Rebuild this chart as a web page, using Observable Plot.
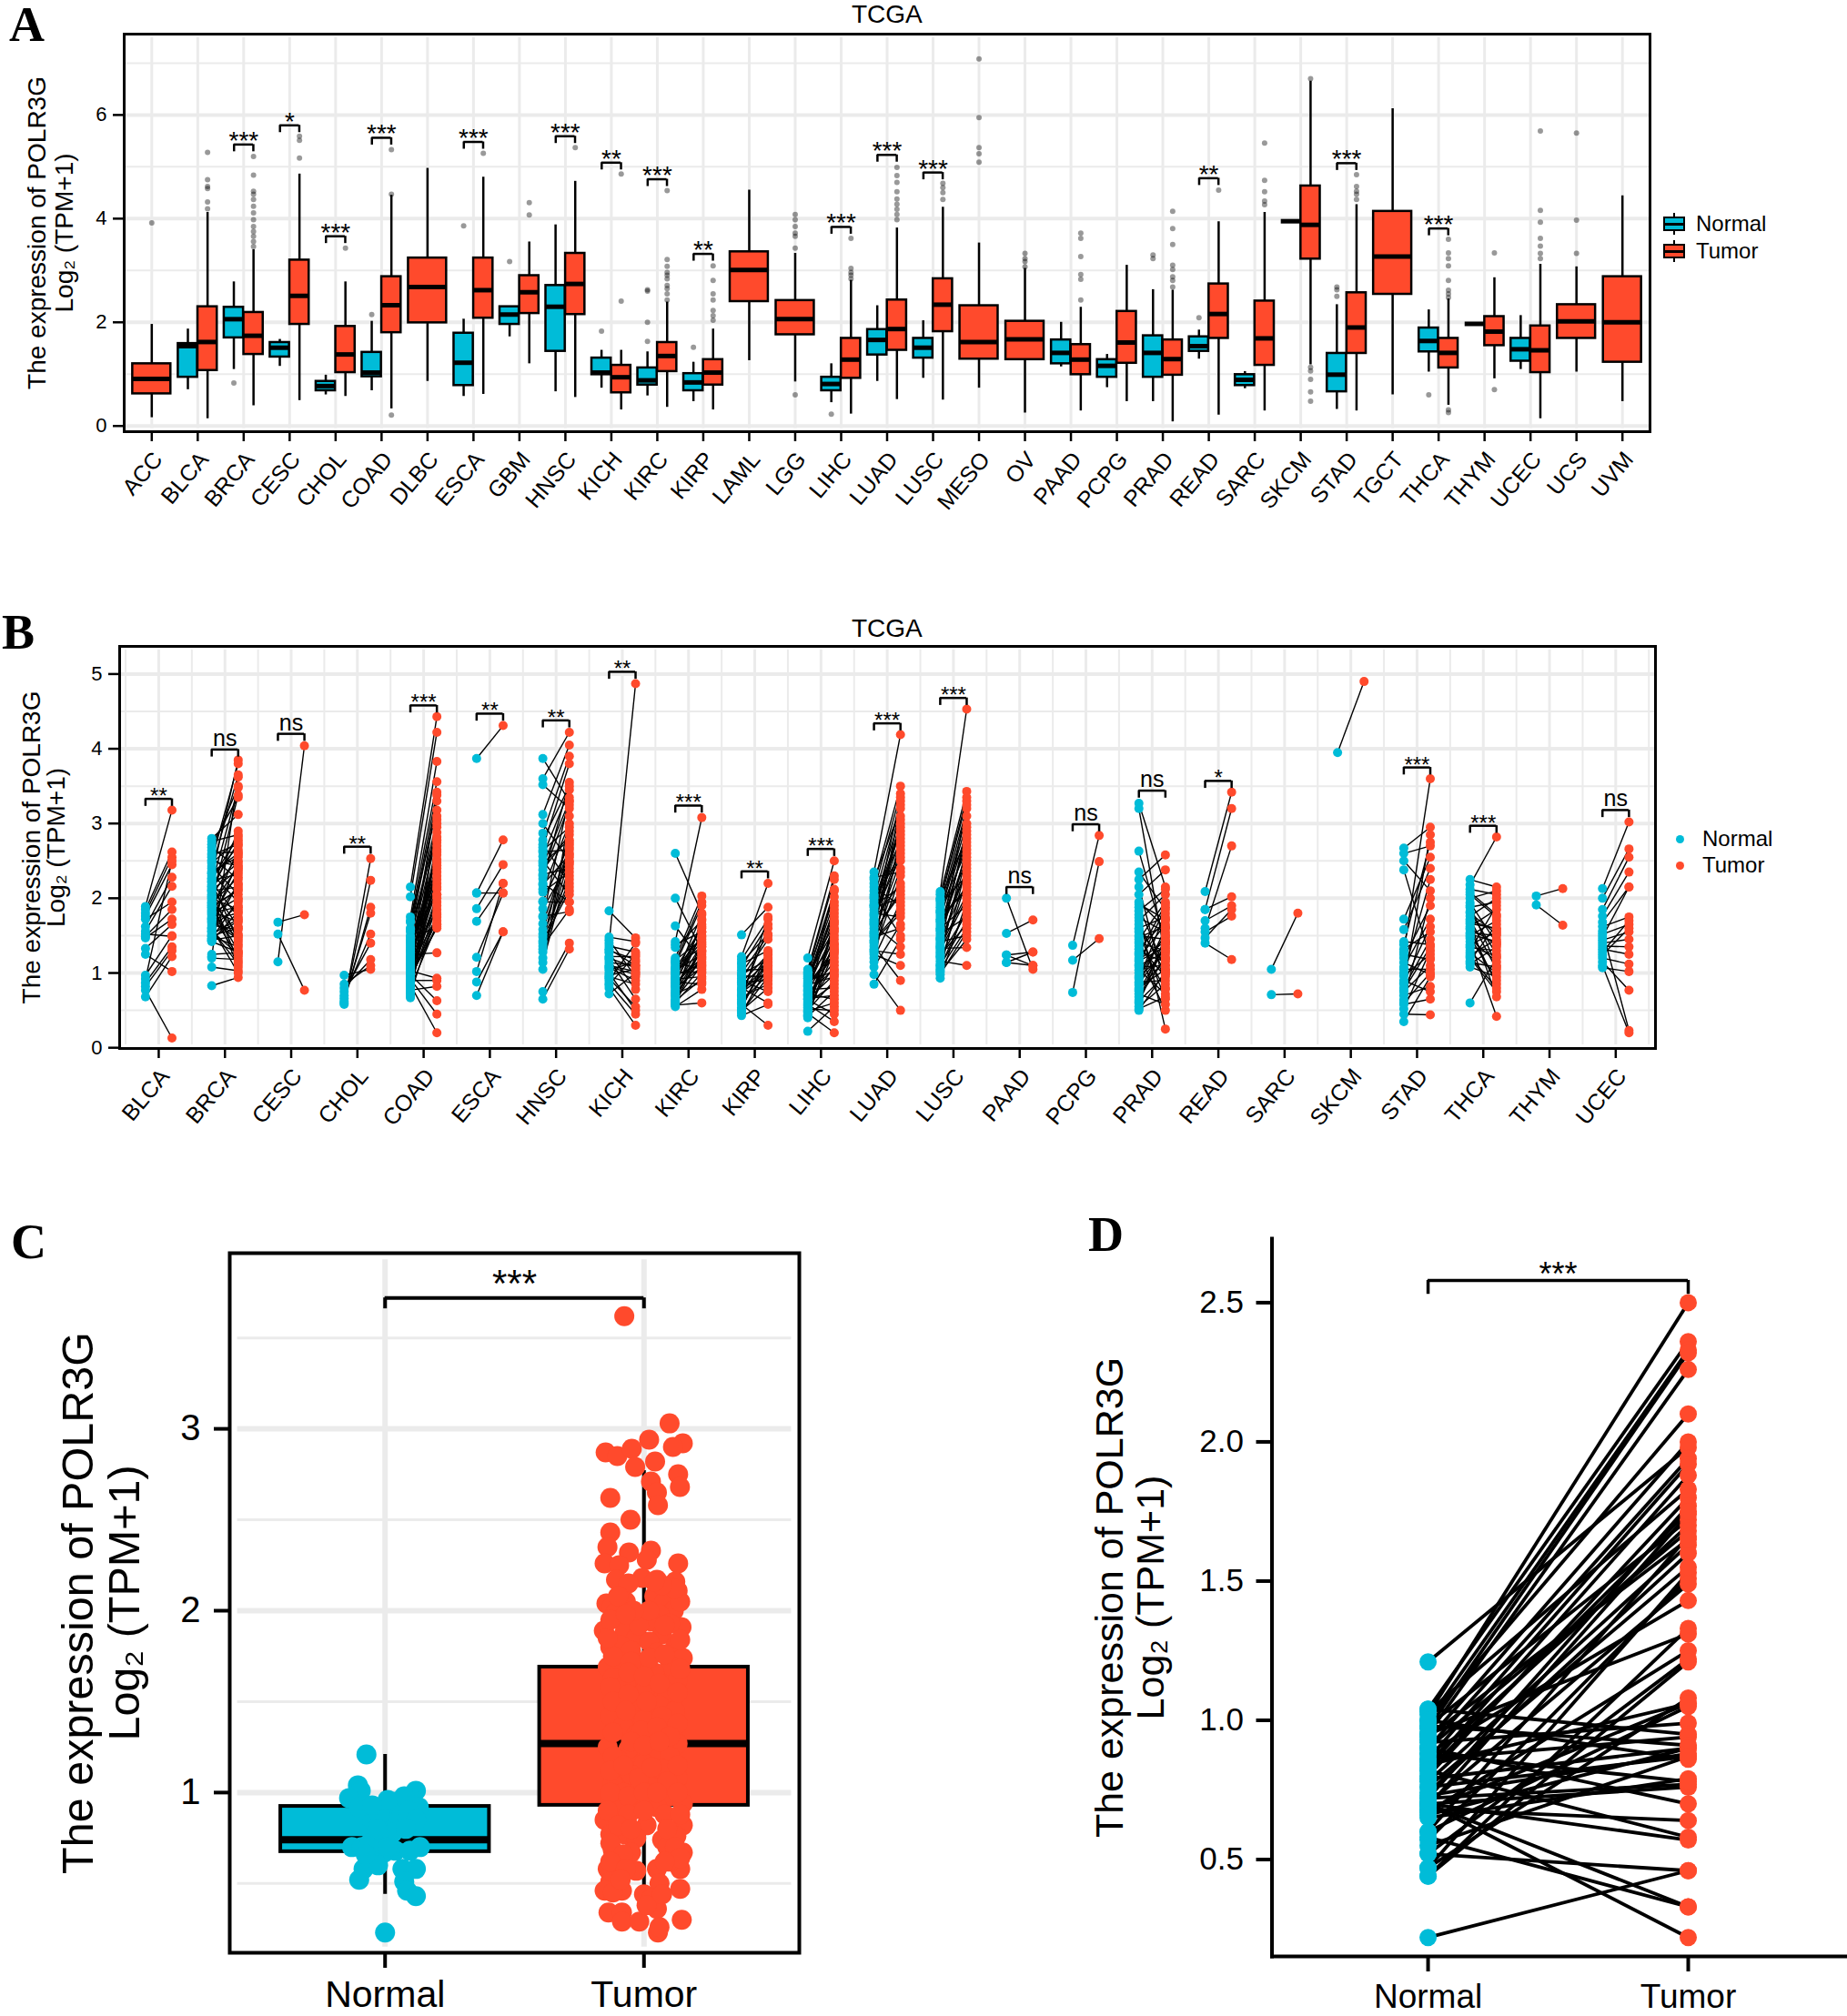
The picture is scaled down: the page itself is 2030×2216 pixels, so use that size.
<!DOCTYPE html>
<html><head><meta charset="utf-8">
<script src="https://cdn.jsdelivr.net/npm/d3@7"></script>
<script src="https://cdn.jsdelivr.net/npm/@observablehq/plot@0.6"></script>
<style>
html,body{margin:0;padding:0;background:#fff}
#page{position:relative;width:2030px;height:2216px;overflow:hidden;font-family:"Liberation Sans",Arial,sans-serif}
#page svg{position:absolute;background:transparent}
.t{position:absolute;white-space:nowrap;line-height:1;color:#000}
.letter{font-family:"Liberation Serif",serif;font-weight:bold;font-size:54px}
</style></head><body><div id="page"></div>
<script>
const yLabel1 = "The expression of POLR3G";
const yLabel2 = "Log\u2082 (TPM+1)";
const groups = ["Normal","Tumor"];
const groupColors = ["#00bcd8","#ff4a2c"];

// ---------- Panel A ----------
const catsA = ["ACC","BLCA","BRCA","CESC","CHOL","COAD","DLBC","ESCA","GBM","HNSC","KICH","KIRC","KIRP","LAML","LGG","LIHC","LUAD","LUSC","MESO","OV","PAAD","PCPG","PRAD","READ","SARC","SKCM","STAD","TGCT","THCA","THYM","UCEC","UCS","UVM"];
// cat, low whisker, q1, median, q3, high whisker
const normalBoxesA = [
["BLCA",.70,.94,1.54,1.59,1.87],["BRCA",1.09,1.70,2.06,2.29,2.78],["CESC",1.15,1.33,1.51,1.61,1.67],["CHOL",.60,.68,.77,.86,.98],
["COAD",.68,.95,1.03,1.42,2.02],["ESCA",.57,.78,1.22,1.79,2.06],["GBM",1.72,1.96,2.15,2.30,2.30],["HNSC",.66,1.44,2.30,2.71,3.88],
["KICH",.73,.99,1.03,1.31,1.46],["KIRC",.58,.79,.88,1.12,1.43],["KIRP",.47,.68,.84,1.01,1.23],["LIHC",.45,.68,.81,.94,1.20],
["LUAD",.86,1.37,1.66,1.86,2.32],["LUSC",.92,1.31,1.51,1.69,2.03],["PAAD",1.14,1.20,1.41,1.66,2.00],["PCPG",.74,.94,1.16,1.28,1.38],
["PRAD",.47,.94,1.41,1.74,2.63],["READ",1.29,1.44,1.54,1.72,1.85],["SARC",.72,.78,.89,.99,1.05],["SKCM",3.95,3.95,3.95,3.95,3.95],
["STAD",.32,.66,.99,1.40,2.34],["THCA",1.04,1.43,1.64,1.89,2.24],["THYM",1.97,1.97,1.97,1.97,1.97],["UCEC",1.09,1.25,1.48,1.69,2.13]];
const tumorBoxesA = [
["ACC",.16,.62,.91,1.20,1.96],["BLCA",.14,1.07,1.62,2.30,4.12],["BRCA",.39,1.38,1.74,2.19,3.40],["CESC",.49,1.96,2.51,3.20,4.86],
["CHOL",.57,1.03,1.38,1.92,2.78],["COAD",.33,1.80,2.33,2.88,4.45],["DLBC",.86,1.99,2.68,3.24,4.97],["ESCA",.61,2.08,2.62,3.24,4.80],
["GBM",1.20,2.17,2.58,2.90,3.55],["HNSC",.55,2.15,2.74,3.33,4.72],["KICH",.31,.64,.94,1.17,1.46],["KIRC",.36,1.05,1.35,1.61,2.39],
["KIRP",.31,.79,1.03,1.28,1.87],["LAML",1.26,2.40,3.01,3.36,4.55],["LGG",.85,1.76,2.06,2.42,3.33],["LIHC",.23,.92,1.28,1.69,2.81],
["LUAD",.51,1.46,1.87,2.43,3.82],["LUSC",.50,1.82,2.34,2.84,4.22],["MESO",.73,1.29,1.62,2.32,3.53],["OV",.25,1.28,1.67,2.02,3.04],
["PAAD",.29,.99,1.28,1.57,2.29],["PCPG",.47,1.21,1.61,2.21,3.10],["PRAD",.08,.98,1.29,1.66,2.62],["READ",.21,1.69,2.16,2.74,3.94],
["SARC",.29,1.17,1.69,2.41,4.12],["SKCM",1.18,3.22,3.88,4.63,6.65],["STAD",.29,1.40,1.90,2.57,4.27],["TGCT",.60,2.54,3.27,4.14,6.12],
["THCA",.40,1.12,1.41,1.69,2.45],["THYM",.91,1.55,1.82,2.11,2.86],["UCEC",.14,1.03,1.46,1.93,3.12],["UCS",1.04,1.69,2.02,2.34,3.07],["UVM",.47,1.23,2.00,2.88,4.44]];
const normalOutliersA = [
["BRCA",[.83]],["COAD",[2.15]],["ESCA",[3.86]],["GBM",[3.17]],["KICH",[1.83]],["KIRC",[1.63,2.0,2.60,2.63]],["KIRP",[1.52]],["LIHC",[.23]],
["PRAD",[3.23,3.30]],["READ",[2.09]],["STAD",[2.50,2.63,2.68]],["THCA",[.60]]];
const tumorOutliersA = [
["ACC",[3.92]],["BLCA",[4.19,4.32,4.58,4.62,4.75,5.28]],["BRCA",[3.46,3.56,3.66,3.75,3.85,3.98,4.11,4.24,4.37,4.47,4.53,4.84,5.20]],
["CESC",[5.17,5.51,5.59]],["CHOL",[3.43]],["COAD",[.21,4.47,5.33]],["ESCA",[5.26]],["GBM",[4.07,4.31]],["HNSC",[5.37]],["KICH",[2.41,4.86]],
["KIRC",[2.43,2.55,2.65,2.71,2.84,2.91,2.96,3.08,3.21,4.54]],["KIRP",[2.04,2.13,2.23,2.43,2.55,2.81,3.09]],["LGG",[.60,3.43,3.66,3.72,3.85,3.98,4.08]],
["LIHC",[2.84,2.91,2.96,3.04,3.62]],["LUAD",[3.98,4.08,4.18,4.28,4.38,4.52,4.70,4.83,4.99]],["LUSC",[4.37,4.50,4.60,4.68]],
["MESO",[5.09,5.25,5.37,5.95,7.08]],["OV",[3.07,3.17,3.23,3.33]],["PAAD",[2.43,2.83,2.92,3.27,3.62,3.72]],
["PRAD",[2.68,2.81,2.88,3.02,3.10,3.50,3.81,4.14]],["READ",[4.55]],["SARC",[4.27,4.34,4.52,4.74,5.46]],
["SKCM",[.48,.66,.90,1.13,1.06,6.70]],["STAD",[4.37,4.47,4.53,4.62,4.85]],["THCA",[.26,.31,2.48,2.55,2.62,2.81,3.09,3.23,3.34,3.60]],
["THYM",[.70,3.34]],["UCEC",[3.23,3.33,3.47,3.62,3.93,4.16,5.69]],["UCS",[3.33,3.97,5.65]]];
const bracketsA = [["BRCA",5.43,"***"],["CESC",5.80,"*"],["CHOL",3.66,"***"],["COAD",5.56,"***"],["ESCA",5.48,"***"],["HNSC",5.59,"***"],["KICH",5.08,"**"],["KIRC",4.76,"***"],["KIRP",3.32,"**"],["LIHC",3.84,"***"],["LUAD",5.23,"***"],["LUSC",4.89,"***"],["READ",4.78,"**"],["STAD",5.07,"***"],["THCA",3.81,"***"]];

// ---------- Panel B : [normal, tumor] pairs ----------
const catsB = ["BLCA","BRCA","CESC","CHOL","COAD","ESCA","HNSC","KICH","KIRC","KIRP","LIHC","LUAD","LUSC","PAAD","PCPG","PRAD","READ","SARC","SKCM","STAD","THCA","THYM","UCEC"];
const pairsBLCA=[[1.89,3.18],[1.85,2.62],[1.8,2.55],[1.76,2.45],[1.72,1.95],[1.62,2.28],[1.56,2.16],[1.52,1.49],[1.49,1.85],[1.47,1.72],[1.33,1.65],[1.25,1.02],[.97,1.5],[.92,2.5],[.87,1.35],[.82,1.3],[.77,.13],[.68,1.22]];
const pairsBRCA=[[2.8,3.12],[2.76,2.85],[2.72,3.35],[2.68,2.4],[2.64,3.5],[2.6,2.62],[2.55,2.25],[2.51,3.8],[2.47,2.78],[2.43,2.05],[2.4,3.65],[2.36,2.55],[2.33,1.95],[2.3,3.85],[2.27,2.7],[2.24,2.32],[2.21,1.75],[2.18,3.48],[2.16,2.48],[2.13,1.62],[2.1,2.15],[2.08,2.9],[2.05,1.38],[2.03,2.58],[2,1.85],[1.98,3.38],[1.96,1.52],[1.93,2.28],[1.9,2.1],[1.88,1.3],[1.85,2.65],[1.83,1.68],[1.8,2.0],[1.78,1.22],[1.75,2.35],[1.72,1.8],[1.7,1.45],[1.67,2.5],[1.64,1.58],[1.61,1.9],[1.58,1.12],[1.55,2.2],[1.52,1.72],[1.49,1.35],[1.46,1.98],[1.42,1.28],[1.25,1.27],[1.22,3.62],[1.2,1.18],[1.08,1.03],[.83,.94],[2.58,2.72],[2.49,2.44],[2.34,2.6],[2.22,1.42],[2.11,2.38],[1.94,1.08],[1.81,1.88],[1.69,2.18],[1.56,1.25],[1.44,1.5],[2.26,2.82],[2.02,1.15],[1.87,2.12],[1.73,1.48],[1.6,1.0],[1.5,1.6],[1.46,1.7],[1.43,1.82],[2.15,2.75],[1.91,2.42]];
const pairsCESC=[[1.68,1.78],[1.52,.77],[1.15,4.04]];
const pairsCHOL=[[.97,1.05],[.85,1.1],[.8,1.18],[.75,1.4],[.7,1.52],[.66,1.8],[.62,1.88],[.6,2.24],[.58,2.53]];
const pairsCOAD=[[2.15,4.43],[2.02,4.22],[1.75,3.83],[1.68,3.56],[1.6,3.42],[1.55,3.3],[1.5,2.05],[1.47,3.05],[1.44,2.95],[1.4,1.65],[1.37,2.82],[1.34,2.3],[1.31,2.65],[1.28,2.58],[1.25,1.27],[1.22,2.4],[1.19,2.2],[1.16,1.85],[1.13,2.15],[1.1,3.38],[1.08,1.75],[1.05,2.12],[1.03,.93],[1,1.95],[.98,.63],[.96,1.6],[.94,1.7],[.92,.45],[.9,.9],[.88,2.05],[.86,1.9],[.84,.2],[.82,2.75],[.8,1.65],[.77,.82],[.74,2.35],[.72,1.8],[.69,3.1],[.67,2.7],[1.7,3.18],[1.58,2.88],[1.42,2.52],[1.3,2.44],[1.2,2.25],[1.06,2.0],[.95,1.62],[.83,2.78],[.75,2.48],[1.12,2.62],[1.0,3.0],[.9,1.78]];
const pairsESCA=[[3.87,4.31],[2.07,2.07],[2.07,2.78],[1.86,2.45],[1.69,2.2],[1.21,2.07],[1.02,2.2],[.88,1.55],[.7,1.55]];
const pairsHNSC=[[3.87,3.3],[3.6,4.22],[3.52,3.2],[3.12,4.05],[3.0,2.5],[2.87,3.9],[2.72,2.2],[2.68,3.8],[2.62,2.65],[2.56,3.45],[2.5,2.05],[2.44,3.3],[2.38,2.85],[2.32,2.4],[2.26,3.55],[2.2,1.95],[2.12,3.0],[1.96,2.72],[1.95,1.95],[1.76,1.82],[1.75,3.35],[1.58,2.6],[1.52,2.3],[1.48,2.15],[1.4,2.9],[1.36,1.85],[1.28,2.55],[1.2,2.75],[1.14,2.45],[1.05,3.1],[.75,1.4],[.65,1.32],[2.78,3.5],[2.64,2.95],[2.47,2.78],[2.3,3.25],[2.18,2.58],[2.08,2.35],[1.86,2.48],[1.66,2.68],[1.43,2.1],[1.32,2.25]];
const pairsKICH=[[1.83,1.47],[1.48,1.42],[1.44,.95],[1.4,4.87],[1.36,1.28],[1.32,1.1],[1.27,.78],[1.22,1.22],[1.18,.65],[1.14,1.1],[1.1,1.02],[1.07,.9],[1.04,1.15],[1,.5],[.97,1.05],[.93,.55],[.9,1.4],[.86,.45],[.8,.3],[.72,1.0],[1.3,1.18],[1.2,1.07],[1.08,.98],[.95,.85],[.84,1.25]];
const pairsKIRC=[[2.6,1.8],[2.0,1.3],[1.63,1.15],[1.42,3.08],[1.38,1.55],[1.34,1.7],[1.2,2.03],[1.17,1.45],[1.14,1.05],[1.11,1.9],[1.08,1.35],[1.06,1.6],[1.03,1.25],[1,1.42],[.97,1.12],[.95,1.78],[.92,.95],[.9,1.5],[.87,1.2],[.85,1.65],[.82,1.38],[.8,1.08],[.77,1.55],[.75,1.3],[.72,.88],[.7,1.22],[.68,1.72],[.65,1.1],[.62,1.4],[.6,1.0],[.57,.6],[.55,.78],[1.15,1.95],[1.05,1.48],[.93,1.62],[.83,1.28],[.73,1.18],[.63,.92],[.58,1.35],[1.0,1.02],[.88,.85]];
const pairsKIRP=[[1.51,1.88],[1.22,2.2],[1.18,1.72],[1.12,1.3],[1.08,1.65],[1.04,1.05],[1,1.5],[.96,.95],[.93,1.45],[.9,.75],[.87,1.25],[.84,1.15],[.8,.6],[.77,1.1],[.74,1.0],[.71,1.25],[.68,.85],[.65,1.75],[.62,.98],[.58,.3],[.54,1.2],[.5,.8],[.46,1.08],[.43,.58],[1.14,1.52],[.98,1.18],[.88,.9],[.78,1.02],[.7,1.6],[.6,1.12],[.52,1.28],[.48,.95]];
const pairsLIHC=[[1.2,2.5],[1.05,2.3],[1.02,2.25],[1,1.65],[.98,2.1],[.95,1.4],[.93,1.95],[.9,1.02],[.88,1.8],[.86,1.25],[.84,.95],[.82,1.55],[.8,1.75],[.78,.8],[.76,1.35],[.74,1.05],[.72,.65],[.7,1.9],[.68,1.28],[.66,.7],[.64,.45],[.62,1.5],[.6,.85],[.58,.35],[.56,1.1],[.54,1.6],[.52,.5],[.5,.9],[.48,1.7],[.46,.2],[.44,1.3],[.42,.75],[.4,1.45],[.22,.55],[1.0,2.02],[.92,1.85],[.85,1.2],[.77,2.12],[.71,1.15],[.65,.98],[.57,1.38],[.49,.6],[.43,1.68],[.96,1.58],[.83,1.32]];
const pairsLUAD=[[2.35,4.19],[2.28,2.35],[2.2,3.5],[2.15,1.9],[2.1,3.4],[2.05,1.5],[2,3.25],[1.96,2.6],[1.92,3.1],[1.88,2.0],[1.84,2.9],[1.8,1.75],[1.76,2.8],[1.72,2.2],[1.68,2.7],[1.64,1.35],[1.6,3.0],[1.56,2.05],[1.52,2.5],[1.48,1.6],[1.44,1.85],[1.4,2.4],[1.36,.9],[1.32,3.3],[1.28,2.3],[1.25,1.1],[1.2,1.95],[1.15,2.85],[1.08,1.65],[.98,.5],[.85,1.45],[2.25,3.2],[2.02,2.75],[1.9,2.15],[1.78,2.55],[1.66,3.05],[1.54,2.1],[1.42,1.8],[1.3,1.25],[1.9,2.95],[1.7,3.35],[1.5,2.65]];
const pairsLUSC=[[2.09,4.53],[2.05,3.43],[2,2.8],[1.96,3.3],[1.92,2.3],[1.88,3.2],[1.84,2.65],[1.8,3.0],[1.76,2.1],[1.72,2.9],[1.68,2.5],[1.64,2.75],[1.6,1.9],[1.56,2.6],[1.52,1.75],[1.48,2.85],[1.45,2.2],[1.42,1.5],[1.39,2.4],[1.36,2.95],[1.33,1.34],[1.3,2.0],[1.27,2.55],[1.24,1.65],[1.2,2.7],[1.16,1.1],[1.12,2.25],[1.08,1.85],[1.03,2.45],[.98,1.55],[.93,1.95],[1.98,3.35],[1.82,3.1],[1.7,2.15],[1.58,2.35],[1.46,3.25],[1.35,2.05],[1.22,1.8],[1.1,1.7],[1.05,1.6],[1.01,1.45]];
const pairsPAAD=[[2,1.05],[1.53,1.71],[1.24,1.28],[1.24,1.1],[1.14,1.28],[1.14,1.1]];
const pairsPCPG=[[1.37,2.84],[1.17,1.46],[.74,2.49]];
const pairsPRAD=[[3.27,2.15],[3.2,1.2],[2.63,1.4],[2.35,1.85],[2.25,2.58],[2.15,.8],[2.05,2.38],[1.95,1.6],[1.88,1.05],[1.83,2.12],[1.78,.25],[1.74,1.55],[1.7,2.05],[1.65,1.0],[1.6,1.75],[1.55,.65],[1.5,1.45],[1.45,1.95],[1.4,1.3],[1.36,.95],[1.32,1.7],[1.28,1.15],[1.24,.5],[1.2,1.65],[1.16,1.35],[1.12,1.88],[1.08,1.1],[1.04,.72],[1,1.5],[.96,1.25],[.92,1.8],[.88,.9],[.84,1.6],[.8,1.05],[.76,1.38],[.72,.58],[.68,1.2],[.64,1.48],[.6,1.42],[.55,.85],[.5,1.02],[1.92,1.72],[1.58,1.1],[1.42,.78],[1.26,1.92],[1.1,1.28],[.94,1.52],[.78,1.18],[.62,.98],[.52,.68],[1.48,1.62],[1.18,1.42],[.86,1.33]];
const pairsREAD=[[2.09,3.42],[1.85,3.2],[1.85,2.02],[1.7,1.9],[1.6,2.7],[1.55,1.76],[1.47,1.85],[1.4,1.18]];
const pairsSARC=[[1.05,1.8],[.71,.72]];
const pairsSKCM=[[3.95,4.9]];
const pairsSTAD=[[2.67,2.95],[2.6,2.7],[2.5,2.1],[2.38,1.2],[1.72,2.55],[1.58,2.4],[1.42,1.38],[1.38,2.75],[1.32,1.55],[1.28,3.6],[1.2,1.9],[1.14,.98],[1.08,1.72],[1,2.25],[.96,1.25],[.9,.75],[.85,2.85],[.8,1.45],[.75,1.1],[.7,.82],[.64,2.0],[.58,.65],[.52,1.3],[.45,.44],[.35,.95],[1.25,1.18],[1.05,1.05],[.87,1.62],[.77,1.35],[.6,1.0]];
const pairsTHCA=[[2.25,2.15],[2.18,2.82],[2.12,2.05],[2.05,1.75],[2,2.1],[1.94,1.4],[1.88,1.95],[1.82,1.25],[1.76,2.0],[1.72,1.05],[1.66,1.6],[1.62,1.85],[1.58,.85],[1.54,1.5],[1.5,1.7],[1.46,1.15],[1.42,.42],[1.38,1.55],[1.34,1.3],[1.3,1.9],[1.27,1.0],[1.24,1.45],[1.2,.75],[1.16,1.65],[1.12,1.35],[1.08,.95],[.6,1.2],[2.08,1.78],[1.9,1.1],[1.8,1.52],[1.68,.68],[1.6,1.38],[1.48,.9],[1.36,1.22],[1.22,.8],[1.14,1.08],[1.7,1.58],[1.52,1.42]];
const pairsTHYM=[[2.03,2.13],[1.91,1.64]];
const pairsUCEC=[[2.13,3.02],[2.0,2.66],[1.85,2.55],[1.76,2.35],[1.68,2.15],[1.62,1.75],[1.56,.23],[1.52,1.65],[1.48,2.15],[1.44,1.55],[1.4,1.45],[1.36,1.35],[1.32,1.25],[1.28,1.7],[1.24,1.6],[1.2,1.12],[1.15,.77],[1.07,1.02],[1.1,.2]];
const pairsB = {BLCA:pairsBLCA,BRCA:pairsBRCA,CESC:pairsCESC,CHOL:pairsCHOL,COAD:pairsCOAD,ESCA:pairsESCA,HNSC:pairsHNSC,KICH:pairsKICH,KIRC:pairsKIRC,KIRP:pairsKIRP,LIHC:pairsLIHC,LUAD:pairsLUAD,LUSC:pairsLUSC,PAAD:pairsPAAD,PCPG:pairsPCPG,PRAD:pairsPRAD,READ:pairsREAD,SARC:pairsSARC,SKCM:pairsSKCM,STAD:pairsSTAD,THCA:pairsTHCA,THYM:pairsTHYM,UCEC:pairsUCEC};
const bracketsB = [["BLCA",3.33,"**"],["BRCA",3.99,"ns"],["CESC",4.2,"ns"],["CHOL",2.69,"**"],["COAD",4.58,"***"],["ESCA",4.47,"**"],["HNSC",4.38,"**"],["KICH",5.03,"**"],["KIRC",3.24,"***"],["KIRP",2.36,"**"],["LIHC",2.66,"***"],["LUAD",4.34,"***"],["LUSC",4.68,"***"],["PAAD",2.15,"ns"],["PCPG",2.99,"ns"],["PRAD",3.44,"ns"],["READ",3.57,"*"],["STAD",3.75,"***"],["THCA",2.97,"***"],["UCEC",3.18,"ns"]];

// ---------- Panel C : box [low, q1, median, q3, high], points [jitter, value] ----------
const boxNormalC = [.44,.675,.74,.924,1.21];
const boxTumorC = [.33,.93,1.27,1.69,2.77];
const pointsNormalC = [[-.072,1.21],[-.105,1.04],[-.094,1.01],[-.139,.97],[.119,1.01],[.103,.97],[.13,.92],[.04,.95],[-.016,.92],[.074,.98],[-.05,.85],[.063,.87],[.018,.81],[-.016,.75],[-.128,.70],[-.09,.70],[-.038,.68],[.04,.68],[.135,.70],[.096,.68],[-.004,.67],[-.083,.58],[-.027,.60],[.067,.58],[.119,.58],[-.10,.52],[.074,.51],[.085,.46],[.119,.43],[0,.23],[-.02,.88],[.03,.78],[.09,.9],[-.06,.72],[.01,.96],[-.1,.92],[.12,.85],[-.03,.8],[.08,.8],[-.075,.66],[-.05,.93],[.01,.7]];
const pointsTumorC = [[-.076,3.62],[.099,3.03],[.02,2.94],[.15,2.92],[.112,2.90],[-.148,2.87],[-.103,2.85],[-.047,2.89],[-.034,2.79],[.043,2.82],[.132,2.75],[.139,2.68],[.027,2.71],[.05,2.65],[.054,2.58],[-.13,2.62],[-.052,2.50],[-.13,2.43],[-.141,2.35],[-.058,2.32],[.027,2.33],[.011,2.28],[-.152,2.26],[-.096,2.25],[.132,2.26],[-.108,2.17],[-.007,2.18],[.05,2.17],[.121,2.16],[-.06,2.15],[.13,2.11],[.10,2.13],[-.145,2.04],[-.125,2.02],[-.07,2.05],[-.11,1.99],[.04,2.08],[.08,2.05],[.115,2.0],[.06,1.98],[-.09,1.95],[.03,1.94],[.145,1.91],[.10,1.93],[-.155,1.89],[-.075,1.88],[.07,1.87],[-.03,1.85],[.02,1.83],[-.13,1.8],[-.09,1.81],[.12,1.8],[.05,1.77],[-.05,1.78],[.15,1.74],[-.14,1.69],[-.09,1.72],[-.02,1.71],[.1,1.7],[.04,1.66],[-.12,1.63],[.13,1.62],[-.07,1.6],[.01,1.58],[.09,1.55],[-.1,1.52],[-.04,1.5],[.06,1.48],[.12,1.45],[-.13,1.42],[0,1.4],[-.08,1.37],[.08,1.35],[-.03,1.32],[.03,1.3],[.13,1.27],[-.14,1.25],[-.06,1.24],[.05,1.22],[.1,1.2],[-.1,1.18],[0,1.16],[.07,1.13],[-.05,1.1],[.13,1.08],[-.12,1.05],[.03,1.03],[-.08,1.0],[.1,.98],[.15,.94],[-.13,.97],[-.02,.95],[.05,.92],[-.1,.9],[-.152,.85],[.15,.82],[-.13,.77],[-.074,.77],[.125,.76],[.01,.82],[-.03,.75],[.07,.74],[-.12,.68],[-.05,.67],[.15,.67],[.09,.7],[-.14,.58],[-.03,.57],[.05,.58],[.14,.58],[.1,.62],[-.13,.51],[-.152,.46],[-.085,.46],[0,.44],[.06,.5],[.14,.47],[.03,.42],[-.137,.34],[-.085,.34],[-.085,.29],[-.018,.29],[.05,.36],[.054,.23],[.06,.26],[.146,.30],
[-.12,1.75],[-.05,1.72],[.02,1.74],[.08,1.76],[.14,1.68],[-.13,1.58],[-.06,1.66],[.0,1.64],[.06,1.6],[.13,1.55],[-.12,1.5],[-.06,1.54],[.01,1.5],[.07,1.42],[.13,1.38],[-.12,1.33],[-.07,1.45],[-.01,1.34],[.05,1.36],[.1,1.31],[-.12,1.2],[-.05,1.28],[.0,1.26],[.06,1.28],[.13,1.15],[-.13,1.12],[-.08,1.15],[-.02,1.08],[.03,1.14],[.09,1.06],[-.13,1.0],[-.06,.98],[.0,1.0],[.05,1.0],[.13,1.0],[-.14,.9],[-.06,.88],[.0,.9],[.08,.88],[.14,.88],[-.1,.82],[-.05,.8],[.09,.8],[-.13,.72],[-.08,.66],[.12,.7],[.14,.64],[-.13,.62],[-.07,.58],[.08,.62],[-.12,.45],[-.09,.52],[.01,.38],[.07,.44],[-.14,1.85],[.14,1.84],[-.02,1.92],[.02,2.0],[-.13,1.95],[.08,1.92],[.14,2.05],[-.04,2.0],[.12,2.12],[-.1,2.08],[.07,2.14],[.04,2.16],[-.07,1.98]];
const bracketC = 3.72;

// ---------- Panel D : [normal, tumor] pairs ----------
const pairsD = [[1.02,2.5],[1.04,2.36],[1.0,2.33],[.97,2.32],[.95,2.26],[1.0,2.10],[1.21,1.98],[.93,2.0],[.9,1.94],[.86,1.92],[.83,1.88],[1.03,1.83],[.8,1.8],[.72,1.77],[.69,1.74],[.98,1.72],[.85,1.7],[.9,1.68],[.6,1.66],[.78,1.63],[.74,1.6],[.47,1.53],[.57,1.51],[.7,1.49],[.88,1.43],[.44,1.33],[.95,1.31],[.67,1.25],[.52,1.22],[.44,1.21],[.47,1.08],[.68,1.06],[.6,1.05],[.92,.99],[1.04,.95],[.86,.94],[.98,.91],[.79,.9],[.73,.88],[.55,.87],[1.0,.86],[.65,.79],[.72,.77],[.7,.76],[.9,.7],[.68,.64],[.82,.58],[.7,.57],[.52,.46],[.22,.46],[.58,.33],[.7,.33],[.7,.22],[.76,1.55],[.84,1.06],[.66,.9],[.88,.78],[.76,.87],[.94,1.65],[.82,1.75]];
const bracketD = 2.58;

// ---------- helpers ----------
const page = document.getElementById("page");
function place(svg,left,top){svg.style.left=left+"px";svg.style.top=top+"px";page.appendChild(svg);}
function txt(s,left,top,size,cls){const d=document.createElement("div");d.className="t"+(cls?" "+cls:"");d.textContent=s;d.style.left=left+"px";d.style.top=top+"px";if(size)d.style.fontSize=size+"px";page.appendChild(d);return d;}
const colorScale = {domain:groups,range:groupColors};
const fontStyle = {fontFamily:"Liberation Sans, Arial, sans-serif",background:"transparent"};
const yTitle = (s,fontSize,dx)=>Plot.text([s],{text:d=>d,frameAnchor:"left",textAnchor:"middle",rotate:-90,dx,fontSize,fill:"#000"});
const gridCol="#ebebeb";
const bracketMarks=(rows,half,leg,fs,fsNs)=>[
  Plot.ruleY(rows,{y:"y",x1:d=>d.x-half,x2:d=>d.x+half,strokeWidth:2.5}),
  Plot.ruleX(rows,{x:d=>d.x-half,y1:"y",y2:d=>d.y-leg,strokeWidth:2.5}),
  Plot.ruleX(rows,{x:d=>d.x+half,y1:"y",y2:d=>d.y-leg,strokeWidth:2.5}),
  Plot.text(rows.filter(d=>d.l!=="ns"),{x:"x",y:"y",text:"l",fontSize:fs,lineAnchor:"bottom",dy:5,fill:"#000"}),
  Plot.text(rows.filter(d=>d.l==="ns"),{x:"x",y:"y",text:"l",fontSize:fsNs,lineAnchor:"bottom",dy:-4,fill:"#000"})
];
const xAxisRotated=(ticks,cats)=>[
  Plot.axisX({ticks,tickSize:11,text:null,strokeWidth:2.5,label:null}),
  Plot.axisX({ticks,tickFormat:i=>cats[i-1],tickRotate:-50,tickSize:0,tickPadding:26,dx:7,fontSize:25,label:null})
];

// ---------- A ----------
(function(){
  const pos=c=>catsA.indexOf(c)+1;
  const hasNormal=new Set(normalBoxesA.map(r=>r[0]));
  const off=.214, w1=.21, w2=.415;
  const rows=[];
  for(const r of normalBoxesA) rows.push({g:"Normal",xc:pos(r[0])-off,hw:w1,lo:r[1],q1:r[2],med:r[3],q3:r[4],hi:r[5]});
  for(const r of tumorBoxesA){const solo=!hasNormal.has(r[0]);rows.push({g:"Tumor",xc:solo?pos(r[0]):pos(r[0])+off,hw:solo?w2:w1,lo:r[1],q1:r[2],med:r[3],q3:r[4],hi:r[5]});}
  const out=[];
  for(const [c,vs] of normalOutliersA) for(const v of vs) out.push({x:pos(c)-off,v});
  for(const [c,vs] of tumorOutliersA) for(const v of vs) out.push({x:hasNormal.has(c)?pos(c)+off:pos(c),v});
  const br=bracketsA.map(([c,y,l])=>({x:pos(c),y,l}));
  const ticks=catsA.map((c,i)=>i+1);
  place(Plot.plot({width:2030,height:600,marginLeft:136,marginRight:217,marginTop:37,marginBottom:126,style:fontStyle,
    x:{domain:[.4,33.6],label:null},y:{domain:[-.11,7.56],label:null},color:colorScale,
    marks:[
      Plot.ruleY([1,3,5,7],{stroke:gridCol,strokeWidth:2}),
      Plot.ruleY([0,2,4,6],{stroke:gridCol,strokeWidth:4}),
      Plot.ruleX(ticks,{y1:-.05,y2:7.49,stroke:gridCol,strokeWidth:3}),
      Plot.dot(out,{x:"x",y:"v",r:3,fill:"#000",fillOpacity:.4}),
      Plot.ruleX(rows,{x:"xc",y1:"lo",y2:"hi",strokeWidth:2.5}),
      Plot.rect(rows,{x1:d=>d.xc-d.hw,x2:d=>d.xc+d.hw,y1:"q1",y2:"q3",fill:"g",stroke:"#000",strokeWidth:2.5}),
      Plot.ruleY(rows,{y:"med",x1:d=>d.xc-d.hw,x2:d=>d.xc+d.hw,strokeWidth:5}),
      ...bracketMarks(br,.21,.14,28,24),
      Plot.frame({stroke:"#000",strokeWidth:3}),
      Plot.axisY({ticks:[0,2,4,6],tickFormat:"d",tickSize:12,tickPadding:7,fontSize:22,strokeWidth:2.5,label:null}),
      ...xAxisRotated(ticks,catsA),
      yTitle(yLabel1,28,-95),yTitle(yLabel2,28,-65)
    ]}),0,0);
})();

// ---------- B ----------
(function(){
  const pos=c=>catsB.indexOf(c)+1;
  const off=.2;
  const links=[];
  for(const c of catsB) for(const [n,t] of pairsB[c]) links.push({x:pos(c),n,t});
  const br=bracketsB.map(([c,y,l])=>({x:pos(c),y,l}));
  const ticks=catsB.map((c,i)=>i+1);
  const halfs=[.5,...ticks.map(i=>i+.5)];
  place(Plot.plot({width:2030,height:600,marginLeft:131,marginRight:211,marginTop:50,marginBottom:108,style:fontStyle,
    x:{domain:[.41,23.6],label:null},y:{domain:[-.01,5.37],label:null},color:colorScale,
    marks:[
      Plot.ruleY([.5,1.5,2.5,3.5,4.5],{stroke:gridCol,strokeWidth:2}),
      Plot.ruleY([1,2,3,4,5],{stroke:gridCol,strokeWidth:4}),
      Plot.ruleX(halfs,{y1:.04,y2:5.32,stroke:gridCol,strokeWidth:2}),
      Plot.ruleX(ticks,{y1:.04,y2:5.32,stroke:gridCol,strokeWidth:3}),
      Plot.link(links,{x1:d=>d.x-off,x2:d=>d.x+off,y1:"n",y2:"t",stroke:"#000",strokeWidth:1.4}),
      Plot.dot(links,{x:d=>d.x-off,y:"n",r:5,fill:()=>"Normal"}),
      Plot.dot(links,{x:d=>d.x+off,y:"t",r:5,fill:()=>"Tumor"}),
      ...bracketMarks(br,.2,.1,24,25),
      Plot.frame({stroke:"#000",strokeWidth:3}),
      Plot.axisY({ticks:[0,1,2,3,4,5],tickFormat:"d",tickSize:12,tickPadding:7,fontSize:22,strokeWidth:2.5,label:null}),
      ...xAxisRotated(ticks,catsB),
      yTitle(yLabel1,28,-96),yTitle(yLabel2,28,-69)
    ]}),0,660);
})();

// ---------- C ----------
(function(){
  const boxes=[{g:"Normal",x:1,b:boxNormalC},{g:"Tumor",x:2,b:boxTumorC}];
  const hw=.403;
  const pts=[...pointsNormalC.map(([j,v])=>({x:1+j,v,g:"Normal"})),...pointsTumorC.map(([j,v])=>({x:2+j,v,g:"Tumor"}))];
  place(Plot.plot({width:1000,height:886,marginLeft:252,marginRight:122,marginTop:47,marginBottom:70,style:fontStyle,
    x:{domain:[.4,2.6],label:null},y:{domain:[.119,3.966],label:null},color:colorScale,
    marks:[
      Plot.ruleY([.5,1.5,2.5,3.5],{x1:.43,x2:2.57,stroke:gridCol,strokeWidth:3}),
      Plot.ruleY([1,2,3],{x1:.43,x2:2.57,stroke:gridCol,strokeWidth:6}),
      Plot.ruleX([1,2],{y1:.15,y2:3.93,stroke:gridCol,strokeWidth:6}),
      Plot.ruleX(boxes,{x:"x",y1:d=>d.b[0],y2:d=>d.b[4],strokeWidth:4}),
      Plot.rect(boxes,{x1:d=>d.x-hw,x2:d=>d.x+hw,y1:d=>d.b[1],y2:d=>d.b[3],fill:"g",stroke:"#000",strokeWidth:4}),
      Plot.ruleY(boxes,{y:d=>d.b[2],x1:d=>d.x-hw,x2:d=>d.x+hw,strokeWidth:8}),
      Plot.dot(pts,{x:"x",y:"v",r:11,fill:"g"}),
      Plot.ruleY([bracketC],{x1:1,x2:2,strokeWidth:4}),
      Plot.ruleX([1,2],{y1:bracketC,y2:bracketC-.06,strokeWidth:4}),
      Plot.text(["***"],{text:d=>d,x:1.5,y:bracketC,fontSize:42,lineAnchor:"bottom",dy:-2,fill:"#000"}),
      Plot.frame({stroke:"#000",strokeWidth:4}),
      Plot.axisY({ticks:[1,2,3],tickFormat:"d",tickSize:17,tickPadding:15,fontSize:40,strokeWidth:4,label:null}),
      Plot.axisX({ticks:[1,2],tickFormat:i=>groups[i-1],tickSize:17,tickPadding:13,fontSize:41,strokeWidth:4,label:null}),
      yTitle(yLabel1,48.5,-166),yTitle(yLabel2,48.5,-115)
    ]}),0,1330);
})();

// ---------- D ----------
(function(){
  place(Plot.plot({width:880,height:886,marginLeft:247.5,marginRight:2,marginTop:31,marginBottom:66,style:fontStyle,
    x:{domain:[.4,2.605],label:null},y:{domain:[.152,2.73],label:null},color:colorScale,
    marks:[
      Plot.link(pairsD,{x1:()=>1,x2:()=>2,y1:d=>d[0],y2:d=>d[1],stroke:"#000",strokeWidth:3.8}),
      Plot.dot(pairsD,{x:()=>1,y:d=>d[0],r:9.5,fill:()=>"Normal"}),
      Plot.dot(pairsD,{x:()=>2,y:d=>d[1],r:9.5,fill:()=>"Tumor"}),
      Plot.ruleY([bracketD],{x1:1,x2:2,strokeWidth:3.5}),
      Plot.ruleX([1,2],{y1:bracketD,y2:bracketD-.05,strokeWidth:3.5}),
      Plot.text(["***"],{text:d=>d,x:1.5,y:bracketD,fontSize:36,lineAnchor:"bottom",dy:6,fill:"#000"}),
      Plot.frame({anchor:"left",stroke:"#000",strokeWidth:4}),
      Plot.frame({anchor:"bottom",stroke:"#000",strokeWidth:4}),
      Plot.axisY({ticks:[.5,1,1.5,2,2.5],tickFormat:d3.format(".1f"),tickSize:17,tickPadding:14,fontSize:35,strokeWidth:4,label:null}),
      Plot.axisX({ticks:[1,2],tickFormat:i=>groups[i-1],tickSize:17,tickPadding:13,fontSize:37,strokeWidth:4,label:null}),
      yTitle(yLabel1,43,-177.5),yTitle(yLabel2,43,-132.5)
    ]}),1150,1330);
})();

// ---------- HTML text: panel letters, titles, legends ----------
txt("A",10,0,null,"letter");txt("B",2,668,null,"letter");txt("C",12,1338,null,"letter");txt("D",1196,1330,null,"letter");
txt("TCGA",936,2,28);txt("TCGA",936,677,28);
function swatch(left,top,col){
  const mk=(l,t,w,h,bg,extra)=>{const d=document.createElement("div");d.style.cssText=`position:absolute;left:${l}px;top:${t}px;width:${w}px;height:${h}px;background:${bg};box-sizing:border-box;${extra||""}`;page.appendChild(d);};
  mk(left+10.5,top-2,2.5,24,"#000");
  mk(left,top+2,24,16,col,"border:2.5px solid #000");
  mk(left,top+8.5,24,3,"#000");
}
swatch(1828,236,groupColors[0]);swatch(1828,266,groupColors[1]);
txt(groups[0],1864,234,24);txt(groups[1],1864,264,24);
function dotKey(left,top,col){const d=document.createElement("div");d.style.cssText=`position:absolute;left:${left-4.5}px;top:${top-4.5}px;width:9px;height:9px;border-radius:50%;background:${col}`;page.appendChild(d);}
dotKey(1846,922,groupColors[0]);dotKey(1846,951,groupColors[1]);
txt(groups[0],1871,910,24);txt(groups[1],1871,939,24);
</script></body></html>
